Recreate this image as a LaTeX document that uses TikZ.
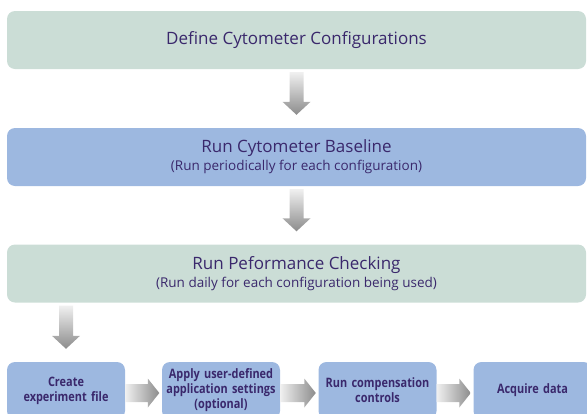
\documentclass[tikz,border=0pt]{standalone}
\usepackage{fontspec}
\setmainfont{Open Sans}
\newfontfamily\condfont{Open Sans}[FakeStretch=0.84]
\usetikzlibrary{calc}

\definecolor{boxgreen}{RGB}{203,221,214}
\definecolor{boxblue}{RGB}{157,184,224}
\definecolor{textpurple}{RGB}{58,40,108}
\definecolor{flowlight}{RGB}{240,240,240}
\definecolor{flowdark}{RGB}{140,140,140}

\newcommand{\downflow}[2]{%
  \shade[top color=flowlight, bottom color=flowdark]
    let \p1=(#1.south), \p2=(#2.north) in
    (\x2-7pt,\y1-3pt) -- (\x2+7pt,\y1-3pt) -- (\x2+7pt,\y2+26pt)
    -- (\x2+14pt,\y2+26pt) -- (\x2,\y2+13pt) -- (\x2-14pt,\y2+26pt)
    -- (\x2-7pt,\y2+26pt) -- cycle;}
\newcommand{\rightflow}[2]{%
  \shade[left color=flowlight, right color=flowdark]
    let \p1=(#1.east), \p2=(#2.west) in
    (\x1,\y1-2.5pt+9pt) -- (\x2-14pt,\y1-2.5pt+9pt) -- (\x2-14pt,\y1-2.5pt+14.5pt)
    -- (\x2-2.5pt,\y1-2.5pt) -- (\x2-14pt,\y1-2.5pt-14.5pt)
    -- (\x2-14pt,\y1-2.5pt-9pt) -- (\x1,\y1-2.5pt-9pt) -- cycle;}

\begin{document}
\begin{tikzpicture}[x=1pt, y=-1pt,
    topbox/.style={rounded corners=8pt, minimum width=579pt, minimum height=58pt,
      text=textpurple, align=center, font=\fontsize{17}{18}\selectfont},
    stepbox/.style={fill=boxblue, rounded corners=8pt, minimum width=118pt,
      minimum height=57pt, text width=116pt, inner sep=1pt, text=textpurple,
      align=center, font=\condfont\bfseries\fontsize{13}{15}\selectfont}]
  \useasboundingbox (0,0) rectangle (587,413);
  \node[topbox, fill=boxgreen] (conf) at (296.5,40) {Define Cytometer Configurations};
  \node[topbox, fill=boxblue] (base) at (296.5,157)
    {Run Cytometer Baseline\\{\fontsize{13.5}{14}\selectfont (Run periodically for each configuration)}};
  \node[topbox, fill=boxgreen] (perf) at (296.5,273.5)
    {Run Peformance Checking\\{\fontsize{13.5}{14}\selectfont (Run daily for each configuration being used)}};
  \node[stepbox] (create) at (66,390.5) {Create\\experiment file};
  \node[stepbox] (apply) at (221,390.5) {Apply user-defined\\application settings\\(optional)};
  \node[stepbox] (comp) at (377.5,390.5) {Run compensation\\controls};
  \node[stepbox] (acq) at (532.5,390.5) {Acquire data};
  \downflow{conf}{base}
  \downflow{base}{perf}
  \downflow{perf}{create}
  \rightflow{create}{apply}
  \rightflow{apply}{comp}
  \rightflow{comp}{acq}
\end{tikzpicture}
\end{document}
